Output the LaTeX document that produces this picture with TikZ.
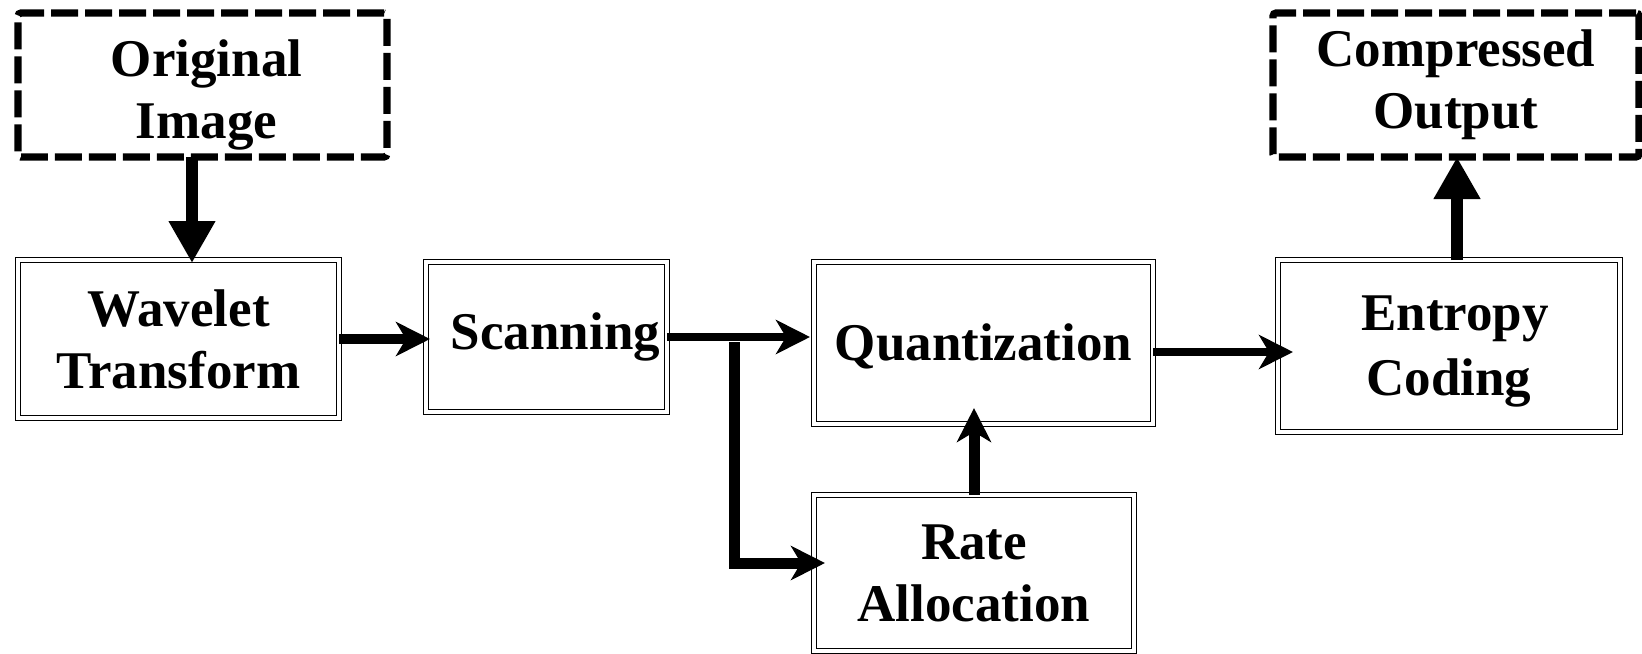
\documentclass[tikz,border=0pt]{standalone}
\usepackage{fontspec}
\setmainfont{Liberation Serif}
\usetikzlibrary{arrows.meta}
\begin{document}
\begin{tikzpicture}[x={(0.5pt,0)}, y={(0,-0.5pt)},
  lbl/.style={font=\fontsize{26.5pt}{31pt}\selectfont\bfseries, align=center, inner sep=0pt, outer sep=0pt},
  dbox/.style={lbl, draw=black, double, line width=0.8pt, double distance=1.6pt},
  dashbox/.style={lbl, draw=black, line width=3.6pt, dash pattern=on 13.5pt off 3.5pt, rounded corners=1.5pt},
  arr/.style={-{Stealth[length=17pt, width=17pt, inset=5pt]}, line width=4.5pt},
  tri/.style={-{Triangle[length=21pt, width=22pt]}, line width=6pt},
  ]
\useasboundingbox (0,0) rectangle (1642,653);
% nodes
\node[dashbox, minimum width=184.5pt, minimum height=72pt] (orig) at (202.5,85) {\rule{0pt}{28.5pt}\hspace*{4pt}Original\\\hspace*{4pt}Image};
\node[dashbox, minimum width=183pt, minimum height=72pt] (comp) at (1456,85) {Compressed\\Output};
\node[dbox, minimum width=160.5pt, minimum height=79pt] (wt) at (178.5,339) {Wavelet\\Transform};
\node[dbox, minimum width=120.5pt, minimum height=75pt] (scan) at (546.5,337) {\hspace*{9pt}Scanning};
\node[dbox, minimum width=169.5pt, minimum height=81pt] (quant) at (983.5,343) {\rule{0pt}{22pt}Quantization};
\node[dbox, minimum width=160pt, minimum height=78pt] (rate) at (974,573) {Rate\\Allocation};
\node[dbox, minimum width=171pt, minimum height=86pt] (ent) at (1449,346) {\rule{0pt}{23pt}\hspace*{6pt}Entropy\\[1.5pt]Coding};
\coordinate (br) at (734,342);
% connectors
\draw[tri, shorten >=-1.5pt] ([xshift=-5.25pt]orig.south) -- ([xshift=-5.25pt]orig.south |- wt.north);
\draw[arr, line width=5pt, shorten >=-2pt] (wt.east) -- (wt.east -| scan.west);
\draw[arr, line width=4pt, shorten >=2pt] (scan.east) -- (scan.east -| quant.west);
\draw[arr, line width=5.5pt, shorten >=-5.5pt] (br) |- ([yshift=5pt]rate.west);
\draw[arr, line width=5.5pt, shorten >=-8pt] (rate.north) -- (rate.north |- quant.south);
\draw[arr, line width=4pt, shorten >=-7.5pt] ([yshift=-4.5pt]quant.east) -- ([yshift=-4.5pt]quant.east -| ent.west);
\draw[tri] ([xshift=4pt]ent.north) -- ([xshift=4pt]ent.north |- comp.south);
\end{tikzpicture}
\end{document}
